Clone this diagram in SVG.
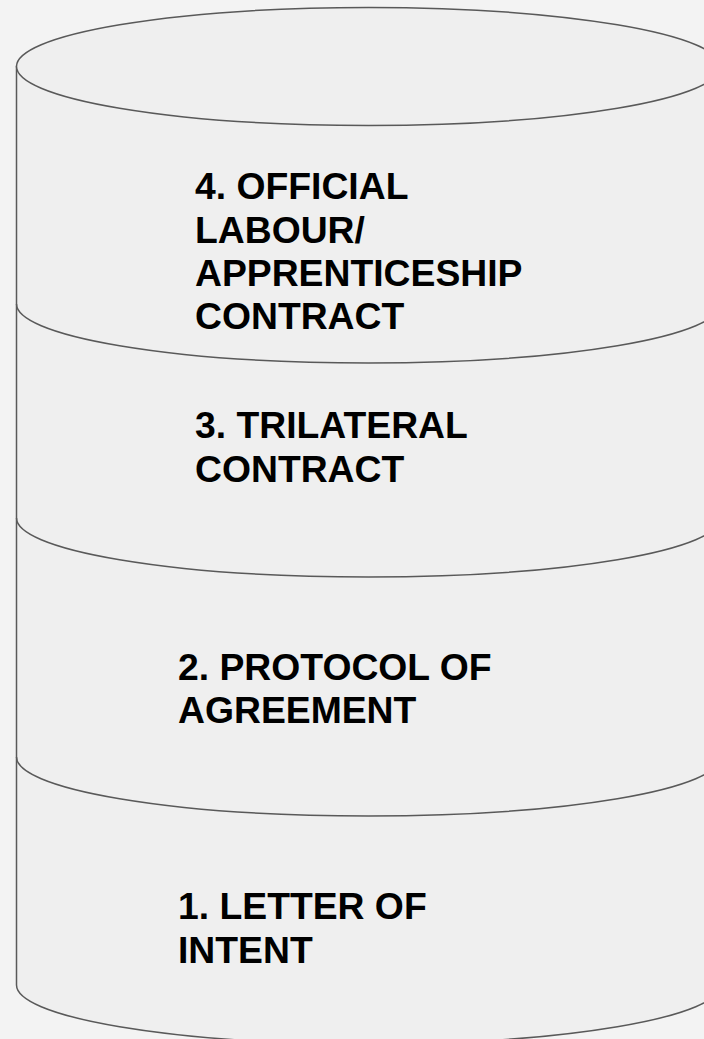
<svg xmlns="http://www.w3.org/2000/svg" width="704" height="1039" viewBox="0 0 704 1039">
  <style>
    .edge { fill: none; stroke: #595959; stroke-width: 1.5; }
    .body { fill: #efefef; stroke: #595959; stroke-width: 1.5; }
    .lbl { font-family: "Liberation Sans", Arial, sans-serif; font-weight: bold; font-size: 37.3px; fill: #000000; }
  </style>
  <rect x="0" y="0" width="704" height="1039" fill="#f3f3f3"/>
  <g id="cylinder">
    <path class="body" d="M16.5,66.5 L16.5,985 A352,59 0 0 0 720.5,985 L720.5,66.5 Z"/>
    <ellipse class="body" cx="368.5" cy="66.5" rx="352" ry="59"/>
  </g>
  <g id="connectors">
    <path class="edge" d="M16.5,304 A352,59 0 0 0 720.5,304"/>
    <path class="edge" d="M16.5,518 A352,59 0 0 0 720.5,518"/>
    <path class="edge" d="M16.5,757 A352,59 0 0 0 720.5,757"/>
  </g>
  <g id="layer4">
    <text class="lbl" x="195" y="199">4. OFFICIAL</text>
    <text class="lbl" x="195" y="242.5">LABOUR/</text>
    <text class="lbl" x="195" y="286">APPRENTICESHIP</text>
    <text class="lbl" x="195" y="328.5">CONTRACT</text>
  </g>
  <g id="layer3">
    <text class="lbl" x="195" y="438">3. TRILATERAL</text>
    <text class="lbl" x="195" y="481.5">CONTRACT</text>
  </g>
  <g id="layer2">
    <text class="lbl" x="178" y="680">2. PROTOCOL OF</text>
    <text class="lbl" x="178" y="723.3">AGREEMENT</text>
  </g>
  <g id="layer1">
    <text class="lbl" x="178" y="919.3">1. LETTER OF</text>
    <text class="lbl" x="178" y="962.7">INTENT</text>
  </g>
</svg>
